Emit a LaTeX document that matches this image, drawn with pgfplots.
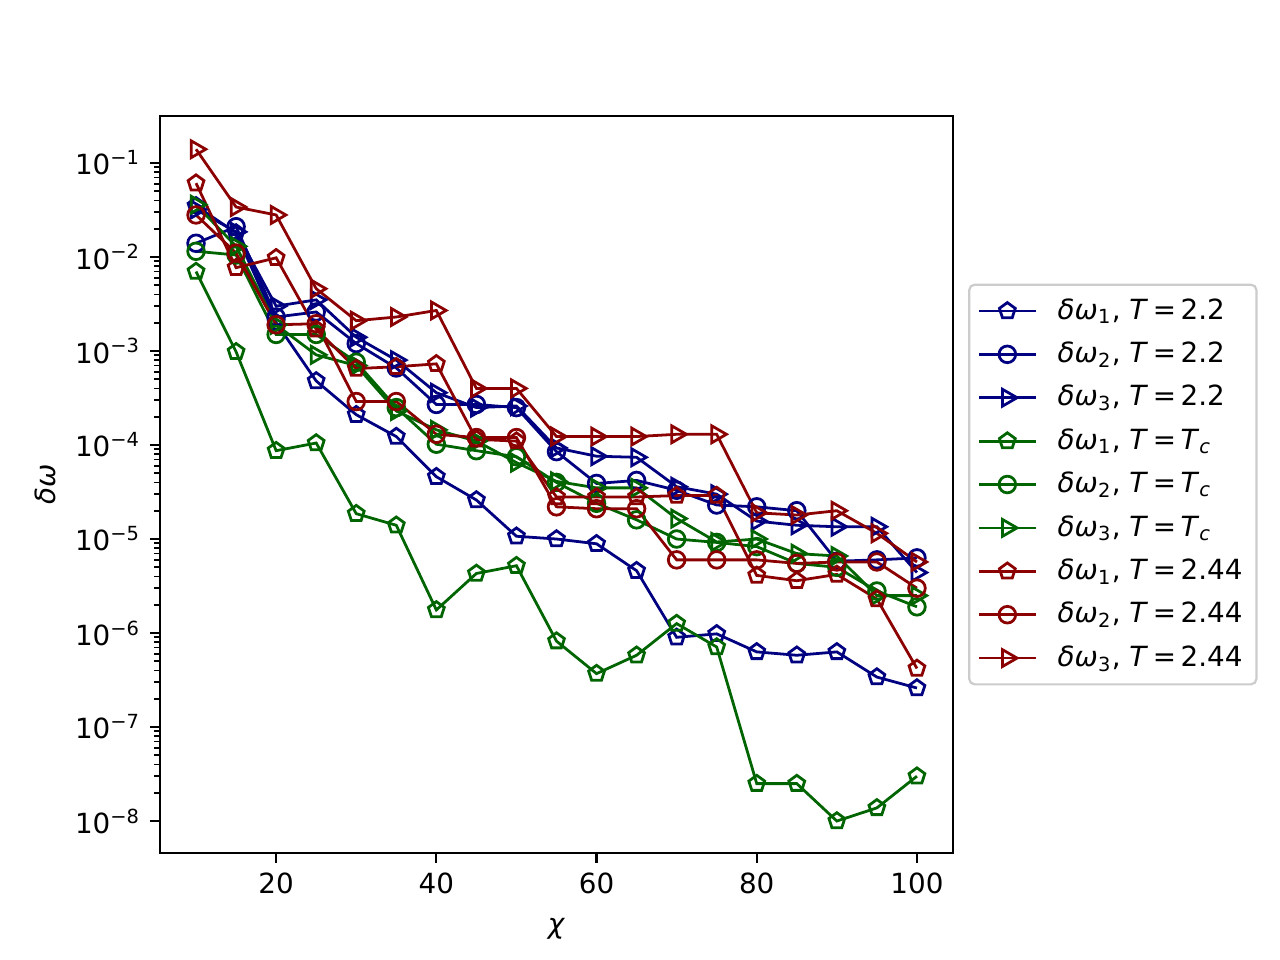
\documentclass[border=0pt]{standalone}
\usepackage{fontspec}
\setmainfont{DejaVu Sans}[ItalicFont={DejaVu Sans Oblique}]
\usepackage{pgfplots}
\pgfplotsset{compat=1.18}
\definecolor{cb}{rgb}{0,0,0.5}
\definecolor{cg}{rgb}{0,0.392,0}
\definecolor{cr}{rgb}{0.545,0,0}
\newcommand{\lab}[2]{\textit{δω}\textsubscript{#1}, \textit{T}\,=\,#2}
\begin{document}
\begin{tikzpicture}
\path[use as bounding box] (0pt,0pt) rectangle (460.8pt,345.6pt);
\begin{axis}[
  at={(57.6pt,38.52pt)}, anchor=south west, scale only axis,
  width=285.48pt, height=265.32pt,
  ymode=log, xmin=5.5, xmax=104.5, ymin=4.57e-9, ymax=0.316,
  xtick={20,40,60,80,100}, xticklabels={20,40,60,80,100},
  ytick={1e-8,1e-7,1e-6,1e-5,1e-4,1e-3,1e-2,1e-1},
  yticklabels={10\textsuperscript{−8},10\textsuperscript{−7},10\textsuperscript{−6},10\textsuperscript{−5},10\textsuperscript{−4},10\textsuperscript{−3},10\textsuperscript{−2},10\textsuperscript{−1}},
  /pgf/number format/assume math mode=true,
  tick pos=left, tick align=outside,
  major tick length=3.5pt, minor tick length=2pt,
  axis line style={line width=0.8pt},
  every tick/.style={black, line width=0.8pt},
  minor tick style={line width=0.6pt},
  ticklabel style={font=\fontsize{10}{12}\selectfont},
  label style={font=\fontsize{10}{12}\selectfont},
  xlabel={\textit{χ}}, ylabel={\textit{δω}},
  xlabel style={yshift=-2.2pt},
  every axis plot/.append style={line width=1pt, mark size=3pt, mark options={solid}},
  legend style={at={(1.019,0.5)}, anchor=west, draw=black!20, line width=0.8pt, rounded corners=2pt,
    font=\fontsize{10}{12}\selectfont, row sep=2.7pt, inner sep=3pt,
    /tikz/every odd column/.append style={column sep=5.4pt}},
  legend cell align=left,
  legend image code/.code={\draw[mark repeat=2,mark phase=2] plot coordinates {(0cm,0cm) (0.36cm,0cm) (0.72cm,0cm)};},
]
\addplot[cb, mark=pentagon] coordinates {(10,3.5e-2)(15,1.8e-2)(20,2.0e-3)(25,4.8e-4)(30,2.1e-4)(35,1.23e-4)(40,4.6e-5)(45,2.6e-5)(50,1.07e-5)(55,1.0e-5)(60,8.9e-6)(65,4.6e-6)(70,9.0e-7)(75,9.8e-7)(80,6.3e-7)(85,5.8e-7)(90,6.3e-7)(95,3.4e-7)(100,2.6e-7)};
\addlegendentry{\lab{1}{2.2}}
\addplot[cb, mark=o] coordinates {(10,1.4e-2)(15,2.1e-2)(20,2.3e-3)(25,2.6e-3)(30,1.2e-3)(35,6.6e-4)(40,2.7e-4)(45,2.7e-4)(50,2.5e-4)(55,8.5e-5)(60,3.9e-5)(65,4.2e-5)(70,3.3e-5)(75,2.3e-5)(80,2.2e-5)(85,2.0e-5)(90,5.8e-6)(95,6.0e-6)(100,6.3e-6)};
\addlegendentry{\lab{2}{2.2}}
\addplot[cb, mark=triangle, mark size=3.5pt, mark options={rotate=-90}] coordinates {(10,3.2e-2)(15,1.85e-2)(20,3.0e-3)(25,3.5e-3)(30,1.4e-3)(35,8.0e-4)(40,3.6e-4)(45,2.5e-4)(50,2.6e-4)(55,9.3e-5)(60,7.6e-5)(65,7.4e-5)(70,3.6e-5)(75,3.0e-5)(80,1.55e-5)(85,1.4e-5)(90,1.35e-5)(95,1.35e-5)(100,4.4e-6)};
\addlegendentry{\lab{3}{2.2}}
\addplot[cg, mark=pentagon] coordinates {(10,7.0e-3)(15,9.8e-4)(20,8.7e-5)(25,1.05e-4)(30,1.86e-5)(35,1.4e-5)(40,1.76e-6)(45,4.3e-6)(50,5.2e-6)(55,8.2e-7)(60,3.7e-7)(65,5.8e-7)(70,1.26e-6)(75,7.1e-7)(80,2.5e-8)(85,2.5e-8)(90,1.0e-8)(95,1.38e-8)(100,3.0e-8)};
\addlegendentry{\lab{1}{\textit{T}\textsubscript{\textit{c}}}}
\addplot[cg, mark=o] coordinates {(10,1.15e-2)(15,1.05e-2)(20,1.5e-3)(25,1.5e-3)(30,7.6e-4)(35,2.5e-4)(40,1.02e-4)(45,8.7e-5)(50,7.5e-5)(55,4.0e-5)(60,2.4e-5)(65,1.6e-5)(70,1.0e-5)(75,9.2e-6)(80,8.3e-6)(85,5.5e-6)(90,5.0e-6)(95,2.8e-6)(100,1.9e-6)};
\addlegendentry{\lab{2}{\textit{T}\textsubscript{\textit{c}}}}
\addplot[cg, mark=triangle, mark size=3.5pt, mark options={rotate=-90}] coordinates {(10,3.6e-2)(15,1.3e-2)(20,1.9e-3)(25,9.1e-4)(30,7.0e-4)(35,2.3e-4)(40,1.45e-4)(45,1.1e-4)(50,6.5e-5)(55,4.1e-5)(60,3.5e-5)(65,3.5e-5)(70,1.65e-5)(75,9.3e-6)(80,1.0e-5)(85,7.0e-6)(90,6.6e-6)(95,2.5e-6)(100,2.5e-6)};
\addlegendentry{\lab{3}{\textit{T}\textsubscript{\textit{c}}}}
\addplot[cr, mark=pentagon] coordinates {(10,6.1e-2)(15,7.7e-3)(20,9.8e-3)(25,1.7e-3)(30,6.5e-4)(35,6.8e-4)(40,7.3e-4)(45,1.15e-4)(50,1.1e-4)(55,2.8e-5)(60,2.8e-5)(65,2.8e-5)(70,2.9e-5)(75,2.9e-5)(80,4.1e-6)(85,3.6e-6)(90,4.2e-6)(95,2.3e-6)(100,4.2e-7)};
\addlegendentry{\lab{1}{2.44}}
\addplot[cr, mark=o] coordinates {(10,2.8e-2)(15,1.1e-2)(20,1.9e-3)(25,1.95e-3)(30,2.9e-4)(35,2.9e-4)(40,1.3e-4)(45,1.2e-4)(50,1.2e-4)(55,2.2e-5)(60,2.1e-5)(65,2.1e-5)(70,6.0e-6)(75,6.0e-6)(80,6.0e-6)(85,5.5e-6)(90,5.7e-6)(95,5.7e-6)(100,3.0e-6)};
\addlegendentry{\lab{2}{2.44}}
\addplot[cr, mark=triangle, mark size=3.5pt, mark options={rotate=-90}] coordinates {(10,0.14)(15,3.4e-2)(20,2.8e-2)(25,4.6e-3)(30,2.1e-3)(35,2.3e-3)(40,2.7e-3)(45,4.0e-4)(50,4.0e-4)(55,1.23e-4)(60,1.23e-4)(65,1.23e-4)(70,1.3e-4)(75,1.3e-4)(80,1.9e-5)(85,1.8e-5)(90,2.0e-5)(95,1.15e-5)(100,5.7e-6)};
\addlegendentry{\lab{3}{2.44}}
\end{axis}
\end{tikzpicture}
\end{document}
